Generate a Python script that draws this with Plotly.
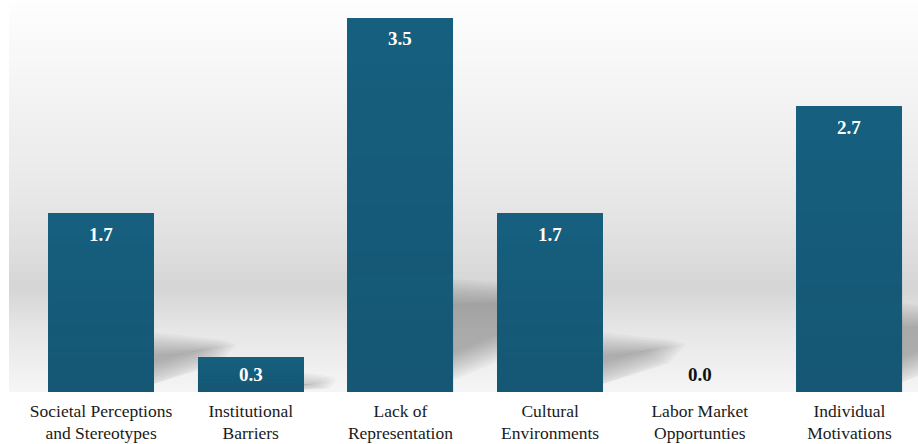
import plotly.graph_objects as go

categories = ["Societal Perceptions<br>and Stereotypes", "Institutional<br>Barriers",
              "Lack of<br>Representation", "Cultural<br>Environments",
              "Labor Market<br>Opportunties", "Individual<br>Motivations"]
values = [1.67, 0.33, 3.5, 1.67, 0.0, 2.67]
value_labels = ["1.7", "0.3", "3.5", "1.7", "0.0", "2.7"]

W, H = 918, 444
ML, MR, MT, MB = 9, 0, 0, 52
plot_w = W - ML - MR
plot_h = H - MT - MB
x_range = [-0.615, 5.458]
y_range = [0, 3.664]
px_x = plot_w / (x_range[1] - x_range[0])
px_y = plot_h / (y_range[1] - y_range[0])
bar_w = 0.708
serif = "Liberation Serif, Times New Roman, serif"

fig = go.Figure()
fig.add_trace(go.Bar(
    x=list(range(len(categories))), y=values, width=bar_w,
    marker=dict(color="#17607f", line=dict(width=0)),
    hoverinfo="skip",
))

shapes = []
# background vertical gradient (pixel-from-top, grey level)
stops = [(0, 254), (100, 243), (200, 231), (260, 220), (288, 213), (305, 220),
         (330, 230), (360, 238), (392, 245)]
n = 98
for k in range(n):
    y0p = plot_h * k / n
    y1p = plot_h * (k + 1) / n
    mid = (y0p + y1p) / 2
    for (a, ca), (b, cb) in zip(stops[:-1], stops[1:]):
        if a <= mid <= b:
            g = ca + (cb - ca) * (mid - a) / (b - a)
            break
    g = int(round(g))
    shapes.append(dict(type="rect", xref="x domain", yref="y domain",
                       x0=0, x1=1, y0=1 - y1p / plot_h, y1=1 - y0p / plot_h,
                       fillcolor=f"rgb({g},{g},{g})", line=dict(width=0), layer="below"))

# soft wedge shadows cast to the right of each bar (blur via stacked layers)
for i, v in enumerate(values):
    hpx = v * px_y
    if hpx <= 0:
        continue
    a = 0.04 * hpx    # lower edge height at bar side (px)
    b = 0.27 * hpx    # upper edge height at bar side (px)
    L = 0.35 * hpx    # wedge length (px)
    c = 0.25 * hpx    # tip height (px)
    xr = i + bar_w / 2
    half = (b - a) / 2
    es = [14, 11, 8, 5, 2, -1, -4, -7, -10, -13]
    for e in es:
        e = max(e, -half + 2)
        lo = max(a - e, 0)
        hi = b + e
        tipx = L + e * 1.4
        pts = [
            (xr - 25 / px_x, lo / px_y),
            (xr - 25 / px_x, hi / px_y),
            (xr + tipx * 0.85 / px_x, (c + 0.25 * (hi - c) + e * 0.2) / px_y),
            (xr + tipx / px_x, (c + e * 0.2) / px_y),
            (xr + tipx * 0.8 / px_x, (c - 0.3 * (c - lo) - e * 0.2) / px_y),
        ]
        path = "M " + " L ".join(f"{px:.5f},{py:.5f}" for px, py in pts) + " Z"
        shapes.append(dict(type="path", xref="x", yref="y", path=path,
                           fillcolor="rgba(70,70,70,0.045)", line=dict(width=0), layer="below"))

# subtle vertical gradient on bars
nb = 16
for i, v in enumerate(values):
    if v <= 0:
        continue
    for k in range(nb):
        y0 = v * k / nb
        y1 = v * (k + 1) / nb
        al = 0.16 * (1 - (k + 0.5) / nb)
        shapes.append(dict(type="rect", xref="x", yref="y",
                           x0=i - bar_w / 2, x1=i + bar_w / 2, y0=y0, y1=y1,
                           fillcolor=f"rgba(10,40,60,{al:.3f})", line=dict(width=0), layer="above"))

annotations = []
for i, (v, lab) in enumerate(zip(values, value_labels)):
    hpx = v * px_y
    if hpx > 42:
        y, ys, col = v, -21, "white"
    else:
        y, ys, col = 0, 18, "white" if v > 0 else "#111111"
    annotations.append(dict(x=i, y=y, yshift=ys, text=f"<b>{lab}</b>", showarrow=False,
                            xref="x", yref="y", yanchor="middle",
                            font=dict(family=serif, size=19, color=col)))

fig.update_layout(
    width=W, height=H,
    margin=dict(l=ML, r=MR, t=MT, b=MB, pad=0, autoexpand=False),
    paper_bgcolor="white", plot_bgcolor="#eeeeee",
    showlegend=False, bargap=0,
    shapes=shapes, annotations=annotations,
    xaxis=dict(range=x_range, tickmode="array", tickvals=list(range(len(categories))),
               ticktext=categories, showgrid=False, zeroline=False, showline=False,
               ticks="", ticklabelstandoff=6, automargin=False,
               tickfont=dict(family=serif, size=17.5, color="#1a1a1a"), fixedrange=True),
    yaxis=dict(range=y_range, visible=False, showgrid=False, zeroline=False,
               automargin=False, fixedrange=True),
)

fig.write_html("out.html")
